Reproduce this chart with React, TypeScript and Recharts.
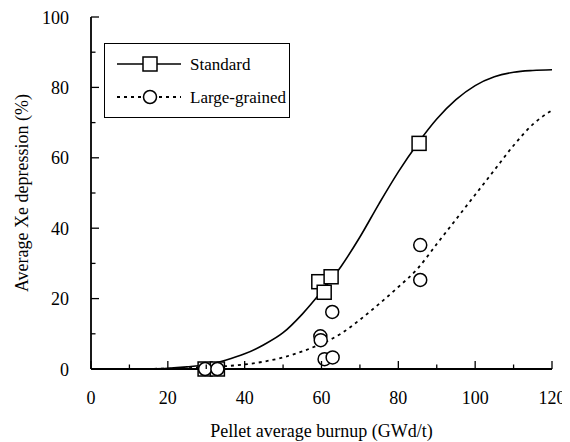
import React from "react";
import {
  ComposedChart,
  Line,
  Scatter,
  XAxis,
  YAxis,
  Legend,
} from "recharts";

// ---- data ----
const burnupGrid = [0, 5, 10, 15, 20, 25, 30, 35, 40, 45, 50, 55, 60, 65, 70, 75, 80, 85, 90, 95, 100, 105, 110, 115, 120];
const standardFit = [0, 0, 0, 0.05, 0.2, 0.6, 1.2, 2.5, 4.3, 6.9, 10.3, 15.6, 22, 29, 37.5, 47, 56, 64, 71, 76.5, 80.5, 83, 84.3, 84.8, 85];
const largeFit = [0, 0, 0, 0.05, 0.1, 0.25, 0.5, 0.8, 1.3, 2.1, 3.3, 5, 7.2, 10, 14, 18.5, 23.3, 28.5, 35.5, 42.5, 49.5, 56.5, 63.5, 69.5, 73.5];

const standardBurnup = [29.7, 32.9, 59.3, 60.7, 62.5, 85.4];
const standardXe = [0, 0, 24.8, 21.8, 26.2, 64.1];

const largeBurnup = [29.7, 32.9, 59.7, 59.8, 60.8, 62.9, 62.8, 85.7, 85.7];
const largeXe = [0, 0, 9.3, 8.2, 2.8, 3.3, 16.2, 35.2, 25.3];

const xTicks = [0, 10, 20, 30, 40, 50, 60, 70, 80, 90, 100, 110, 120];
const yTicks = [0, 10, 20, 30, 40, 50, 60, 70, 80, 90, 100];

const seriesNames = ["Standard", "Large-grained"];
const xTitle = "Pellet average burnup (GWd/t)";
const yTitle = "Average Xe depression (%)";

// ---- tables built from the arrays ----
const standardCurve = burnupGrid.map((x, i) => ({ x, y: standardFit[i] }));
const largeCurve = burnupGrid.map((x, i) => ({ x, y: largeFit[i] }));
const standardPts = standardBurnup.map((x, i) => ({ x, y: standardXe[i] }));
const largePts = largeBurnup.map((x, i) => ({ x, y: largeXe[i] }));

const FONT = "Liberation Serif";
const FS = 18;
const txtStyle = { fontFamily: FONT, fontSize: FS } as React.CSSProperties;
const legStyle = { fontFamily: FONT, fontSize: 17 } as React.CSSProperties;

const BottomTick = (p: any) => {
  const v = p.payload.value;
  const major = v % 20 === 0;
  return (
    <g>
      <line x1={p.x} x2={p.x} y1={p.y} y2={p.y - (major ? 8 : 4.5)} stroke="#000" strokeWidth={1.3} />
      {major && (
        <text x={p.x} y={p.y + 35} textAnchor="middle" style={txtStyle} fill="#000">
          {v}
        </text>
      )}
    </g>
  );
};

const TopTick = (p: any) => {
  const v = p.payload.value;
  const major = v % 20 === 0;
  return <line x1={p.x} x2={p.x} y1={p.y} y2={p.y + (major ? 8 : 4.5)} stroke="#000" strokeWidth={1.3} />;
};

const LeftTick = (p: any) => {
  const v = p.payload.value;
  const major = v % 20 === 0;
  return (
    <g>
      <line x1={p.x} x2={p.x + (major ? 8 : 4.5)} y1={p.y} y2={p.y} stroke="#000" strokeWidth={1.3} />
      {major && (
        <text x={p.x - 22} y={p.y + 6.5} textAnchor="end" style={txtStyle} fill="#000">
          {v}
        </text>
      )}
    </g>
  );
};

const RightTick = (p: any) => {
  const v = p.payload.value;
  const major = v % 20 === 0;
  return <line x1={p.x} x2={p.x - (major ? 8 : 4.5)} y1={p.y} y2={p.y} stroke="#000" strokeWidth={1.3} />;
};

const SquareShape = (p: any) => (
  <rect x={p.cx - 7} y={p.cy - 7} width={14} height={14} fill="#fff" stroke="#000" strokeWidth={1.5} />
);
const CircleShape = (p: any) => (
  <circle cx={p.cx} cy={p.cy} r={6.5} fill="#fff" stroke="#000" strokeWidth={1.5} />
);

const XTitle = (p: any) => {
  const vb = p.viewBox;
  return (
    <text x={vb.x + vb.width / 2} y={vb.y + 68} textAnchor="middle" style={txtStyle} fill="#000">
      {xTitle}
    </text>
  );
};

const YTitle = (p: any) => {
  const vb = p.viewBox;
  const cx = vb.x + 14;
  const cy = vb.y + vb.height / 2;
  return (
    <text
      x={cx}
      y={cy}
      transform={`rotate(-90 ${cx} ${cy})`}
      textAnchor="middle"
      dominantBaseline="central"
      style={txtStyle}
      fill="#000"
    >
      {yTitle}
    </text>
  );
};

const LegendBox = () => (
  <svg width={184} height={73} style={{ display: "block" }}>
    <line x1={12} x2={76} y1={20} y2={20} stroke="#000" strokeWidth={1.5} />
    <rect x={38} y={13} width={14} height={14} fill="#fff" stroke="#000" strokeWidth={1.5} />
    <text x={85} y={26} style={legStyle} fill="#000">
      {seriesNames[0]}
    </text>
    <line x1={12} x2={76} y1={53} y2={53} stroke="#000" strokeWidth={1.8} strokeDasharray="3 4" />
    <circle cx={45} cy={53} r={6.5} fill="#fff" stroke="#000" strokeWidth={1.5} />
    <text x={85} y={59} style={legStyle} fill="#000">
      {seriesNames[1]}
    </text>
  </svg>
);

export default function App() {
  return (
    <div style={{ width: 562, height: 434, background: "#fff" }}>
      <ComposedChart width={562} height={434} margin={{ top: 9, right: 18, bottom: 1, left: 0 }}>
        <XAxis
          xAxisId="bottom"
          dataKey="x"
          type="number"
          domain={[0, 120]}
          ticks={xTicks}
          interval={0}
          height={72}
          tickSize={0}
          tickMargin={0}
          tickLine={false}
          axisLine={{ stroke: "#000", strokeWidth: 1.8 }}
          tick={BottomTick}
          label={<XTitle />}
        />
        <XAxis
          xAxisId="top"
          orientation="top"
          dataKey="x"
          type="number"
          domain={[0, 120]}
          ticks={xTicks}
          interval={0}
          height={0}
          tickSize={0}
          tickMargin={0}
          tickLine={false}
          axisLine={{ stroke: "#000", strokeWidth: 1.8 }}
          tick={TopTick}
        />
        <YAxis
          yAxisId="left"
          dataKey="y"
          type="number"
          domain={[0, 100]}
          ticks={yTicks}
          interval={0}
          width={83}
          tickSize={0}
          tickMargin={0}
          tickLine={false}
          axisLine={{ stroke: "#000", strokeWidth: 1.8 }}
          tick={LeftTick}
          label={<YTitle />}
        />
        <YAxis
          yAxisId="right"
          orientation="right"
          dataKey="y"
          type="number"
          domain={[0, 100]}
          ticks={yTicks}
          interval={0}
          width={0}
          tickSize={0}
          tickMargin={0}
          tickLine={false}
          axisLine={{ stroke: "#000", strokeWidth: 1.8 }}
          tick={RightTick}
        />
        <Legend
          layout="vertical"
          align="center"
          verticalAlign="middle"
          content={<LegendBox />}
          wrapperStyle={{
            position: "absolute",
            left: 96,
            top: 35,
            width: 186,
            height: 75,
            border: "1px solid #000",
            boxSizing: "border-box",
            background: "#fff",
            margin: 0,
            padding: 0,
          }}
        />
        <Line
          xAxisId="bottom"
          yAxisId="left"
          data={standardCurve}
          dataKey="y"
          type="monotone"
          stroke="#000"
          strokeWidth={1.6}
          dot={false}
          activeDot={false}
          isAnimationActive={false}
          legendType="none"
        />
        <Line
          xAxisId="bottom"
          yAxisId="left"
          data={largeCurve}
          dataKey="y"
          type="monotone"
          stroke="#000"
          strokeWidth={1.8}
          strokeDasharray="3 4"
          dot={false}
          activeDot={false}
          isAnimationActive={false}
          legendType="none"
        />
        <Scatter
          xAxisId="bottom"
          yAxisId="left"
          data={standardPts}
          dataKey="y"
          shape={SquareShape}
          isAnimationActive={false}
        />
        <Scatter
          xAxisId="bottom"
          yAxisId="left"
          data={largePts}
          dataKey="y"
          shape={CircleShape}
          isAnimationActive={false}
        />
      </ComposedChart>
    </div>
  );
}
